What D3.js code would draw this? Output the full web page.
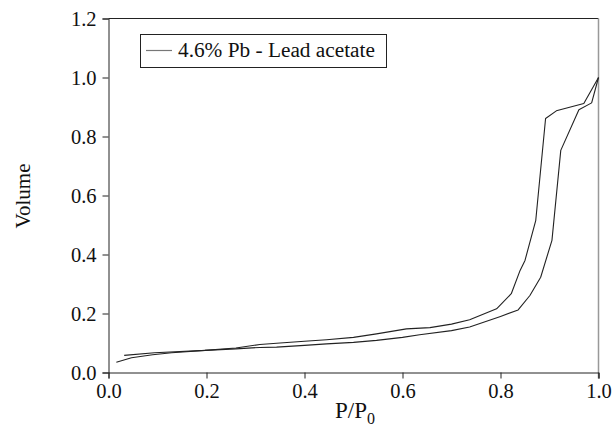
<!DOCTYPE html>
<html>
<head>
<meta charset="utf-8">
<script src="https://cdn.jsdelivr.net/npm/d3@7"></script>
<style>
  body { margin: 0; background: #fff; }
  text { font-family: "Liberation Serif", "Times New Roman", serif; fill: #111; }
</style>
</head>
<body>
<svg id="chart" width="614" height="430"></svg>
<script>
////////// dados

// ramo de adsorcao (curva de baixo)
const adsX = [0.016, 0.047, 0.09, 0.129, 0.197, 0.26, 0.309, 0.343, 0.40, 0.445, 0.50, 0.547, 0.60, 0.635, 0.70, 0.737, 0.80, 0.836, 0.860, 0.882, 0.905, 0.923, 0.960, 0.986, 1.0];
const adsY = [0.035, 0.050, 0.060, 0.067, 0.075, 0.080, 0.085, 0.086, 0.092, 0.097, 0.102, 0.109, 0.119, 0.128, 0.142, 0.154, 0.190, 0.212, 0.261, 0.323, 0.448, 0.753, 0.891, 0.914, 1.0];

// ramo de dessorcao (curva de cima)
const desX = [0.032, 0.094, 0.197, 0.26, 0.309, 0.35, 0.40, 0.445, 0.50, 0.547, 0.608, 0.656, 0.70, 0.737, 0.792, 0.822, 0.840, 0.850, 0.872, 0.892, 0.914, 0.970, 1.0];
const desY = [0.058, 0.067, 0.075, 0.083, 0.095, 0.100, 0.106, 0.111, 0.119, 0.131, 0.148, 0.152, 0.164, 0.179, 0.216, 0.267, 0.346, 0.380, 0.516, 0.861, 0.887, 0.912, 1.0];

const xTicks = [0, 0.2, 0.4, 0.6, 0.8, 1.0];
const yTicks = [0, 0.2, 0.4, 0.6, 0.8, 1.0, 1.2];
const legendLabel = '4.6% Pb - Lead acetate';

////////// escalas

const svg = d3.select('#chart');

const x = d3.scaleLinear()
  .domain([0, 1])
  .range([108.5, 598.5]);

const y = d3.scaleLinear()
  .domain([0, 1.2])
  .range([372.5, 18.5]);

// moldura: topo escuro, lado direito cinza
svg.append('line')
  .attr('x1', x(0)).attr('x2', x(1))
  .attr('y1', y(1.2)).attr('y2', y(1.2))
  .attr('stroke', '#222');

svg.append('line')
  .attr('x1', x(1)).attr('x2', x(1))
  .attr('y1', y(1.2)).attr('y2', y(0) + 6)
  .attr('stroke', '#999')
  .attr('stroke-width', 1.5);

// eixos
const xAxis = svg.append('g')
  .attr('transform', 'translate(0,' + y(0) + ')')
  .call(d3.axisBottom(x).tickValues(xTicks).tickFormat(d3.format('.1f')).tickSizeOuter(0).tickSize(6).tickPadding(5));

const yAxis = svg.append('g')
  .attr('transform', 'translate(' + x(0) + ',0)')
  .call(d3.axisLeft(y).tickValues(yTicks).tickFormat(d3.format('.1f')).tickSizeOuter(0).tickSize(6).tickPadding(6));

[xAxis, yAxis].forEach(function(g){
  g.attr('font-family', 'Liberation Serif, serif').attr('font-size', 20.5);
  g.selectAll('path.domain').attr('stroke', '#222');
  g.selectAll('line').attr('stroke', '#222');
  g.selectAll('text')
    .attr('fill', '#111')
    .style('font-family', 'Liberation Serif, serif')
    .style('font-size', '20.5px');
});

////////// curvas

const line = d3.line()
  .x(d => x(d[0]))
  .y(d => y(d[1]));

function drawBranch(xs, ys){
  svg.append('path')
    .datum(xs.map((v, i) => [v, ys[i]]))
    .attr('d', line)
    .attr('fill', 'none')
    .attr('stroke', '#222')
    .attr('stroke-width', 1.1)
    .attr('stroke-linejoin', 'round');
}

drawBranch(adsX, adsY);
drawBranch(desX, desY);

////////// legenda

const legend = svg.append('g');

legend.append('rect')
  .attr('x', 140.5).attr('y', 34.5)
  .attr('width', 246).attr('height', 33)
  .attr('fill', '#fff')
  .attr('stroke', '#222');

legend.append('line')
  .attr('x1', 146).attr('x2', 172)
  .attr('y1', 50.5).attr('y2', 50.5)
  .attr('stroke', '#777')
  .attr('stroke-width', 1.2);

legend.append('text')
  .attr('x', 178).attr('y', 57)
  .style('font-size', '21.3px')
  .text(legendLabel);

////////// titulos dos eixos

svg.append('text')
  .attr('transform', 'translate(30,196) rotate(-90)')
  .attr('text-anchor', 'middle')
  .style('font-size', '21px')
  .text('Volume');

const xt = svg.append('text')
  .attr('x', 335).attr('y', 418)
  .style('font-size', '23px');
xt.append('tspan').text('P/P');
xt.append('tspan').attr('dy', 6).style('font-size', '16px').text('0');
</script>
</body>
</html>
